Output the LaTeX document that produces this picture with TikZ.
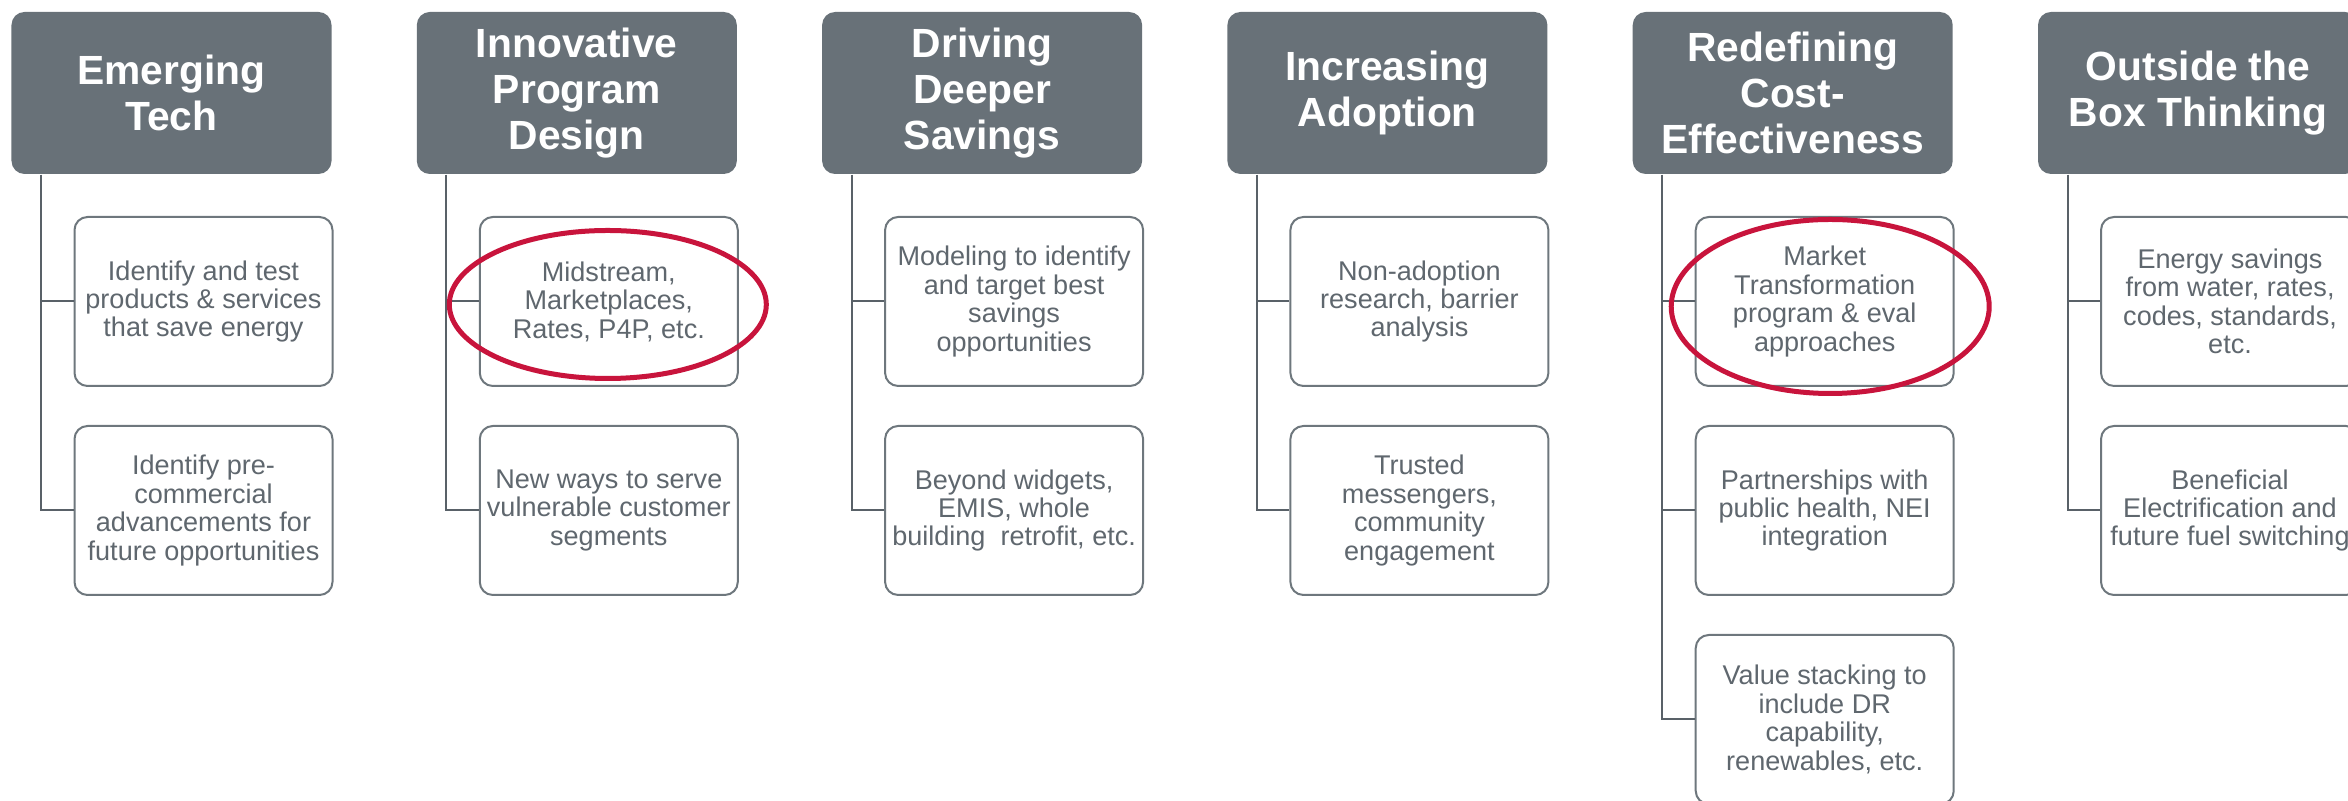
\documentclass[tikz,border=0pt]{standalone}
\usepackage{fontspec}
\setmainfont{Liberation Sans}
\usepackage{tikz}
\usetikzlibrary{positioning}
\definecolor{headgray}{HTML}{687178}
\definecolor{boxgray}{HTML}{6E777D}
\definecolor{textgray}{HTML}{5F676E}
\definecolor{linegray}{HTML}{596168}
\definecolor{markred}{HTML}{C8143C}
\tikzstyle{map_style}=[
	node distance=4.053cm,
	head/.style={rectangle,rounded corners=0.13cm,fill=headgray,draw=none,text=white,minimum width=3.2cm,minimum height=1.62cm,inner sep=0pt,align=center,font=\bfseries\fontsize{11.6}{13.1}\selectfont},
	item/.style={rectangle,rounded corners=0.13cm,draw=boxgray,fill=white,line width=0.02cm,text=textgray,minimum width=2.58cm,minimum height=1.69cm,inner sep=0pt,align=center,node distance=2.09cm,font=\fontsize{7.7}{8.1}\selectfont},
	trunk_edge/.style={draw=linegray,line width=0.02cm},
	ring/.style={draw=markred,line width=0.05cm}
]
\begin{document}
\begin{tikzpicture}[map_style]
		\useasboundingbox (0,0) rectangle (23.48,-8.01);
		
		\node[head]    (h1) at (1.715,-0.93)   {Emerging\\Tech};
		\node[head]    (h2)[right of=h1]   {Innovative\\Program\\Design};
		\node[head]    (h3)[right of=h2]   {Driving\\Deeper\\Savings};
		\node[head]    (h4)[right of=h3]   {Increasing\\Adoption};
		\node[head]    (h5)[right of=h4]   {Redefining\\Cost-\\Effectiveness};
		\node[head]    (h6)[right of=h5]   {Outside the\\Box Thinking};
		
		\node[item]    (a1)[node distance=2.085cm,below of=h1,xshift=0.32cm]   {Identify and test\\products \& services\\that save energy};
		\node[item]    (b1)[below of=a1]   {Identify pre-\\commercial\\advancements for\\future opportunities};
		
		\node[item]    (a2)[node distance=2.085cm,below of=h2,xshift=0.32cm]   {Midstream,\\Marketplaces,\\Rates, P4P, etc.};
		\node[item]    (b2)[below of=a2]   {New ways to serve\\vulnerable customer\\segments};
		
		\node[item]    (a3)[node distance=2.085cm,below of=h3,xshift=0.32cm]   {Modeling to identify\\and target best\\savings\\opportunities};
		\node[item]    (b3)[below of=a3]   {Beyond widgets,\\EMIS, whole\\building\ \ retrofit, etc.};
		
		\node[item]    (a4)[node distance=2.085cm,below of=h4,xshift=0.32cm]   {Non-adoption\\research, barrier\\analysis};
		\node[item]    (b4)[below of=a4]   {Trusted\\messengers,\\community\\engagement};
		
		\node[item]    (a5)[node distance=2.085cm,below of=h5,xshift=0.32cm]   {Market\\Transformation\\program \& eval\\approaches};
		\node[item]    (b5)[below of=a5]   {Partnerships with\\public health, NEI\\integration};
		\node[item]    (c5)[below of=b5]   {Value stacking to\\include DR\\capability,\\renewables, etc.};
		
		\node[item]    (a6)[node distance=2.085cm,below of=h6,xshift=0.32cm]   {Energy savings\\from water, rates,\\codes, standards,\\etc.};
		\node[item]    (b6)[below of=a6]   {Beneficial\\Electrification and\\future fuel switching};
		
		% trunk points under the headers
		\coordinate (t1) at ([xshift=-1.305cm]h1.south);
		\coordinate (t2) at ([xshift=-1.305cm]h2.south);
		\coordinate (t3) at ([xshift=-1.305cm]h3.south);
		\coordinate (t4) at ([xshift=-1.305cm]h4.south);
		\coordinate (t5) at ([xshift=-1.305cm]h5.south);
		\coordinate (t6) at ([xshift=-1.305cm]h6.south);
		
		\path[trunk_edge] (t1) |- (b1.west)
		(t1) |- (a1.west)
		(t2) |- (b2.west)
		(t2) |- (a2.west)
		(t3) |- (b3.west)
		(t3) |- (a3.west)
		(t4) |- (b4.west)
		(t4) |- (a4.west)
		(t5) |- (c5.west)
		(t5) |- (b5.west)
		(t5) |- (a5.west)
		(t6) |- (b6.west)
		(t6) |- (a6.west);
		
		\draw[ring] ([xshift=-0.01cm,yshift=-0.03cm]a2.center) ellipse [x radius=1.585cm,y radius=0.74cm];
		\draw[ring] ([xshift=0.055cm,yshift=-0.05cm]a5.center) ellipse [x radius=1.59cm,y radius=0.87cm];
		
\end{tikzpicture}
\end{document}
